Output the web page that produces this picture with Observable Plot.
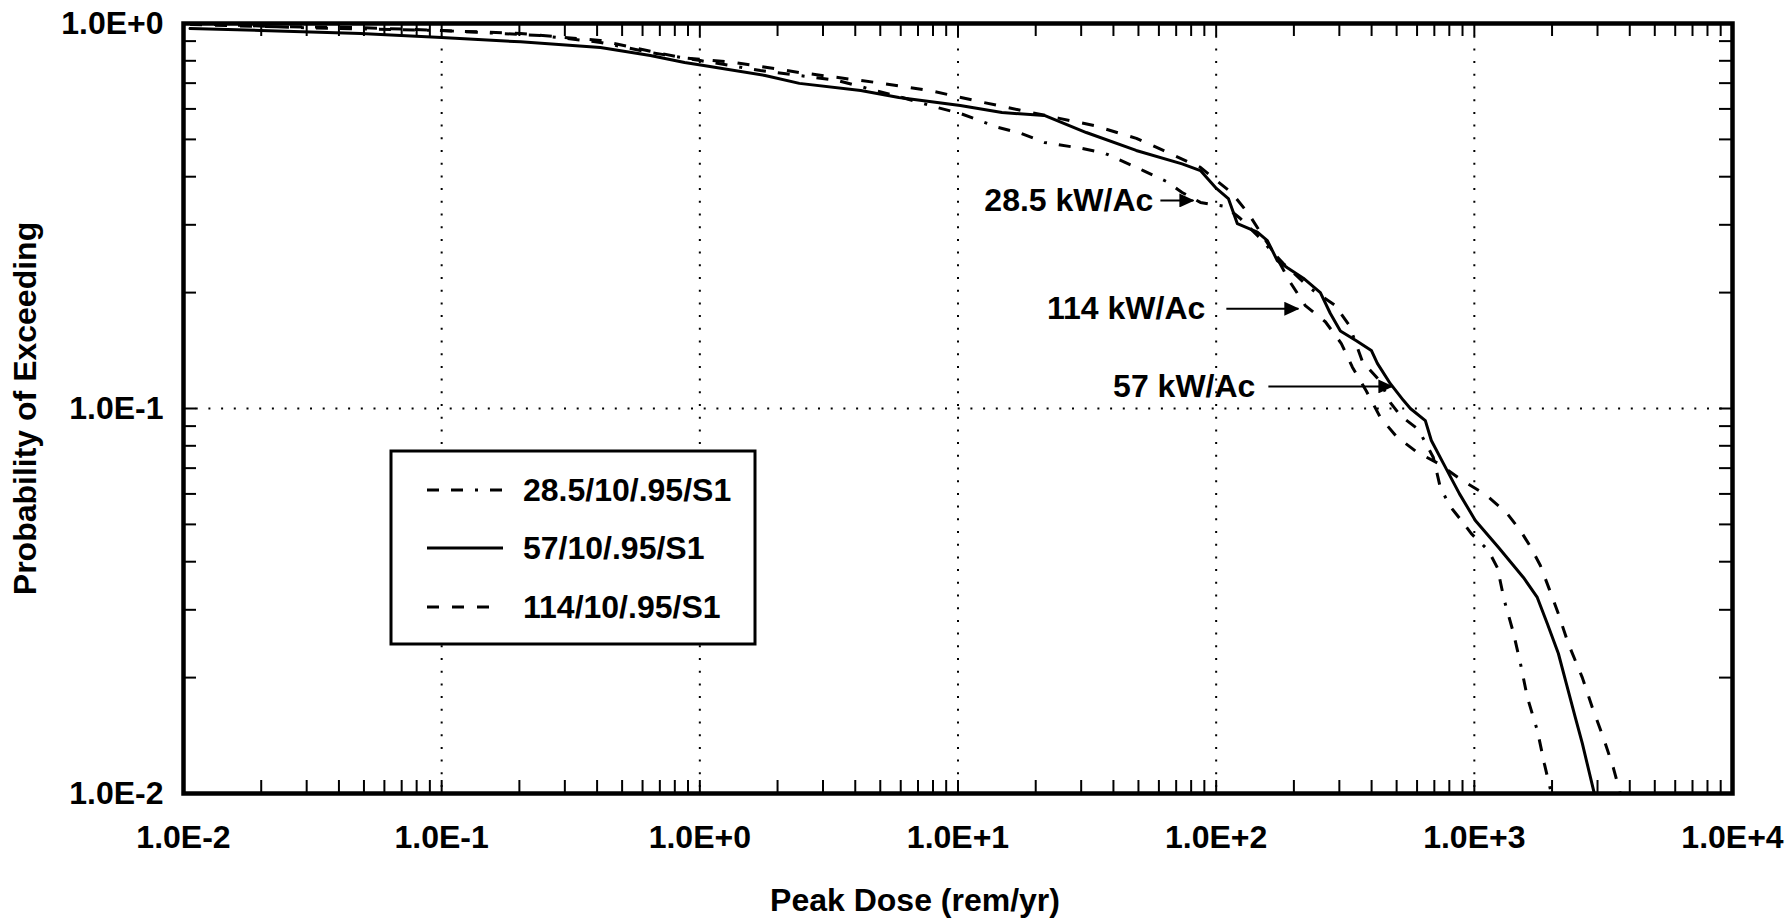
<!DOCTYPE html>
<html>
<head>
<meta charset="utf-8">
<script src="https://cdn.jsdelivr.net/npm/d3@7"></script>
<script src="https://cdn.jsdelivr.net/npm/@observablehq/plot@0.6"></script>
<style>
  html, body { margin: 0; padding: 0; background: #fff; }
  #chart svg { display: block; }
</style>
</head>
<body>
<div id="chart"></div>
<script>
// Complementary cumulative distribution of peak dose for three areal power loadings

// 28.5 kW/Ac case (dash-dot)
const dose285 = [0.0106, 0.0284, 0.0998, 0.241, 0.412, 0.643, 1.005, 1.717, 3.41, 5.90, 8.32, 10.2, 14.34, 17.6, 21.6, 30.3, 37.2, 52.2, 64.2, 73.8, 86.9, 96.7, 108.6, 124.1, 145.7, 182.1, 231.6, 289.5, 328.1, 368.4, 432.5, 472.8, 516.9, 607.1, 693.8, 738.5, 807.4, 890.7, 973.6, 1133, 1228, 1307, 1416, 1508, 1605, 1754, 1867, 1988];
const prob285 = [1.0, 0.976, 0.959, 0.931, 0.893, 0.841, 0.801, 0.755, 0.711, 0.646, 0.605, 0.584, 0.537, 0.518, 0.491, 0.4735, 0.4596, 0.415, 0.3887, 0.364, 0.343, 0.3388, 0.3347, 0.3115, 0.2797, 0.238, 0.205, 0.1851, 0.1643, 0.1325, 0.1175, 0.1036, 0.0959, 0.0882, 0.0746, 0.0623, 0.0556, 0.0512, 0.0473, 0.0428, 0.0386, 0.0317, 0.0262, 0.0218, 0.01776, 0.01458, 0.01196, 0.0100];

// 57 kW/Ac case (solid)
const dose57 = [0.0106, 0.0199, 0.0485, 0.0998, 0.202, 0.412, 0.643, 0.873, 1.035, 1.789, 2.43, 4.20, 5.90, 10.2, 14.8, 21.6, 31.4, 49.0, 73.8, 86.9, 100.2, 111.5, 120.8, 144.4, 157.9, 172.6, 188.7, 217.6, 253.3, 276.9, 302.8, 349.1, 399.1, 421.1, 472.8, 531.1, 565.2, 646.0, 681.5, 758.6, 875, 1009, 1239, 1549, 1753, 1918, 2116, 2272, 2462, 2620, 2916];
const prob57 = [0.970, 0.959, 0.942, 0.920, 0.896, 0.866, 0.826, 0.792, 0.778, 0.733, 0.699, 0.670, 0.642, 0.612, 0.587, 0.577, 0.521, 0.468, 0.432, 0.415, 0.373, 0.351, 0.302, 0.287, 0.273, 0.242, 0.232, 0.218, 0.200, 0.1765, 0.159, 0.150, 0.1415, 0.131, 0.116, 0.105, 0.100, 0.093, 0.0826, 0.072, 0.0601, 0.0512, 0.0436, 0.0364, 0.0323, 0.0276, 0.0231, 0.0193, 0.01575, 0.01349, 0.0100];

// 114 kW/Ac case (dashed)
const dose114 = [0.0106, 0.0199, 0.0485, 0.0998, 0.202, 0.412, 0.841, 1.361, 2.43, 4.79, 7.75, 12.5, 24.7, 33.7, 49.1, 62.4, 86.9, 100.2, 114.5, 133.3, 148.3, 169.6, 193.8, 221.5, 264.8, 305.4, 337.0, 381.6, 432.5, 498.9, 601.6, 725.4, 898.5, 1103, 1330, 1508, 1648, 1802, 1953, 2116, 2312, 2620, 2864, 3159, 3453, 3678];
const prob114 = [0.994, 0.982, 0.976, 0.959, 0.942, 0.903, 0.816, 0.792, 0.746, 0.703, 0.670, 0.624, 0.567, 0.543, 0.503, 0.468, 0.423, 0.391, 0.364, 0.321, 0.287, 0.250, 0.2125, 0.185, 0.168, 0.1475, 0.128, 0.111, 0.0948, 0.0846, 0.0769, 0.072, 0.065, 0.0598, 0.0537, 0.0482, 0.0438, 0.0391, 0.0339, 0.0293, 0.0245, 0.0200, 0.01673, 0.01398, 0.01168, 0.0100];

const seriesNames = ["28.5/10/.95/S1", "57/10/.95/S1", "114/10/.95/S1"];
const seriesDash = ["12,12,12,12,3,12", null, "12,13"];

const xDecades = [0.01, 0.1, 1, 10, 100, 1000, 10000];
const xTickLabels = ["1.0E-2", "1.0E-1", "1.0E+0", "1.0E+1", "1.0E+2", "1.0E+3", "1.0E+4"];
const yDecades = [0.01, 0.1, 1];
const yTickLabels = ["1.0E-2", "1.0E-1", "1.0E+0"];
const minorSteps = [2, 3, 4, 5, 6, 7, 8, 9];

const xTitle = "Peak Dose (rem/yr)";
const yTitle = "Probability of Exceeding";

// Callout labels with arrows pointing at each curve
const calloutText = ["28.5 kW/Ac", "114 kW/Ac", "57 kW/Ac"];
const calloutTextEnd = [57.1, 90.8, 141.9];
const calloutFrom = [60.8, 109.5, 159.3];
const calloutTo = [81.6, 208.1, 481.4];
const calloutProb = [0.347, 0.1816, 0.1141];

const W = 1792, H = 918;
const mL = 183, mR = 60, mT = 23, mB = 125;
const innerW = W - mL - mR, innerH = H - mT - mB;
const FONT = "'Liberation Sans', Arial, Helvetica, sans-serif";
const FS = 32;
const TICK = 13;

const rows = (xs, ys) => xs.map((d, i) => ({dose: d, prob: ys[i]}));
const xTicks = xDecades.slice(0, -1).flatMap(d => minorSteps.map(m => m * d)).concat(xDecades.slice(1, -1));
const yTicks = yDecades.slice(0, -1).flatMap(d => minorSteps.map(m => m * d)).concat(yDecades.slice(1, -1));
const callouts = calloutText.map((t, i) => ({t, te: calloutTextEnd[i], x1: calloutFrom[i], x2: calloutTo[i], p: calloutProb[i]}));

const textOpts = {fontSize: FS, fontWeight: "bold", fontFamily: FONT, fill: "black", lineAnchor: "middle"};

const chart = Plot.plot({
  width: W,
  height: H,
  marginLeft: mL,
  marginRight: mR,
  marginTop: mT,
  marginBottom: mB,
  style: {background: "white", color: "black", fontFamily: FONT},
  x: {type: "log", domain: [0.01, 10000], axis: null},
  y: {type: "log", domain: [0.01, 1], axis: null},
  marks: [
    // dotted decade grid
    Plot.ruleX(xDecades.slice(1, -1), {x: d => d, stroke: "black", strokeWidth: 2, strokeDasharray: "2,10.7"}),
    Plot.ruleY(yDecades.slice(1, -1), {y: d => d, stroke: "black", strokeWidth: 2, strokeDasharray: "2,10.7"}),
    // curves
    Plot.line(rows(dose285, prob285), {x: "dose", y: "prob", stroke: "black", strokeWidth: 3, strokeDasharray: seriesDash[0], strokeLinecap: "butt", clip: true}),
    Plot.line(rows(dose57, prob57), {x: "dose", y: "prob", stroke: "black", strokeWidth: 3, clip: true}),
    Plot.line(rows(dose114, prob114), {x: "dose", y: "prob", stroke: "black", strokeWidth: 3, strokeDasharray: seriesDash[2], strokeLinecap: "butt", clip: true}),
    // inward ticks on all four sides
    Plot.tickX(xTicks, {x: d => d, insetTop: innerH - TICK, stroke: "black", strokeWidth: 2}),
    Plot.tickX(xTicks, {x: d => d, insetBottom: innerH - TICK, stroke: "black", strokeWidth: 2}),
    Plot.tickY(yTicks, {y: d => d, insetRight: innerW - TICK, stroke: "black", strokeWidth: 2}),
    Plot.tickY(yTicks, {y: d => d, insetLeft: innerW - TICK, stroke: "black", strokeWidth: 2}),
    Plot.frame({stroke: "black", strokeWidth: 4.5}),
    // tick labels
    Plot.text(xDecades, {x: d => d, text: (d, i) => xTickLabels[i], frameAnchor: "bottom", dy: 44, textAnchor: "middle", ...textOpts}),
    Plot.text(yDecades, {y: d => d, text: (d, i) => yTickLabels[i], frameAnchor: "left", dx: -20, textAnchor: "end", ...textOpts}),
    // axis titles
    Plot.text([xTitle], {text: d => d, frameAnchor: "bottom", dx: -43, dy: 107, textAnchor: "middle", ...textOpts}),
    Plot.text([yTitle], {text: d => d, frameAnchor: "left", dx: -158, rotate: -90, textAnchor: "middle", ...textOpts}),
    // callouts
    Plot.link(callouts, {x1: "x1", x2: "x2", y1: "p", y2: "p", stroke: "black", strokeWidth: 2}),
    Plot.text(callouts, {x: "te", y: "p", text: "t", textAnchor: "end", ...textOpts})
  ]
});

document.getElementById("chart").appendChild(chart);

const svg = d3.select(chart);

// filled arrowheads for the callout links
const defs = svg.append("defs");
defs.append("marker")
  .attr("id", "callout-head")
  .attr("viewBox", "0 0 15 14")
  .attr("refX", 14)
  .attr("refY", 7)
  .attr("markerWidth", 15)
  .attr("markerHeight", 14)
  .attr("markerUnits", "userSpaceOnUse")
  .attr("orient", "auto")
  .append("path")
  .attr("d", "M0,0L15,7L0,14Z")
  .attr("fill", "black");
svg.selectAll('g[aria-label="link"] path').attr("marker-end", "url(#callout-head)");

// legend box
const legend = svg.append("g").attr("class", "legend");
const boxX = 391, boxY = 451, boxW = 364, boxH = 193;
legend.append("rect")
  .attr("x", boxX).attr("y", boxY).attr("width", boxW).attr("height", boxH)
  .attr("fill", "white").attr("stroke", "black").attr("stroke-width", 3);
const rowY = [490, 548, 607];
seriesNames.forEach((name, i) => {
  legend.append("line")
    .attr("x1", 427).attr("x2", i === 2 ? 493 : 503)
    .attr("y1", rowY[i]).attr("y2", rowY[i])
    .attr("stroke", "black").attr("stroke-width", 3)
    .attr("stroke-dasharray", seriesDash[i]);
  legend.append("text")
    .attr("x", 523).attr("y", rowY[i]).attr("dy", "0.35em")
    .attr("text-anchor", "start")
    .attr("font-family", FONT).attr("font-size", FS).attr("font-weight", "bold")
    .attr("fill", "black")
    .text(name);
});
</script>
</body>
</html>
